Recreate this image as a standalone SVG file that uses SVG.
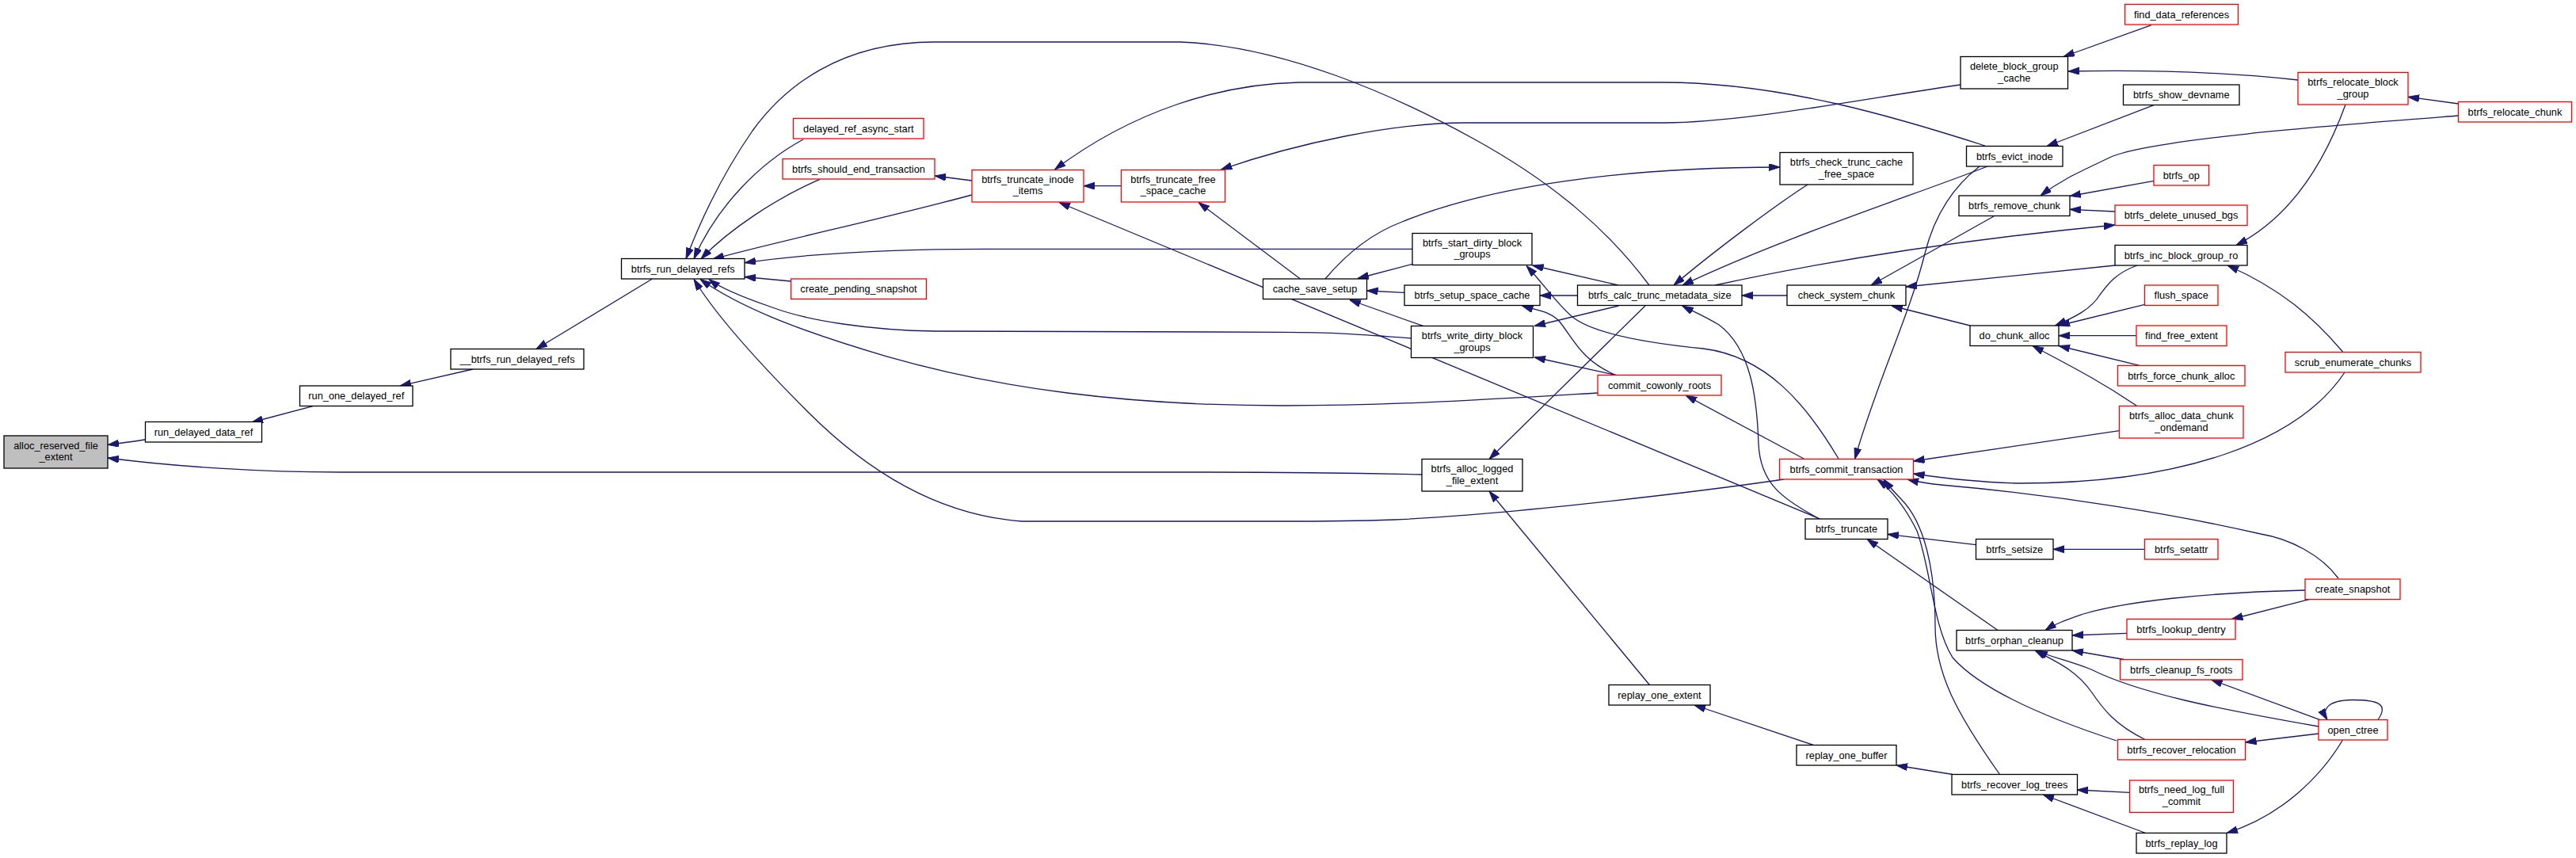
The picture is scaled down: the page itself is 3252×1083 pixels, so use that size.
<svg xmlns="http://www.w3.org/2000/svg" width="3252" height="1083" viewBox="0 0 3252 1083">
<style>
.n rect{fill:#ffffff;stroke:#000000;stroke-width:1.3}
.n.r rect{stroke:#ff0000}
.n.g rect{fill:#bfbfbf}
.n text{font-family:"Liberation Sans",Arial,Helvetica,sans-serif;font-size:12.8px;text-anchor:middle;fill:#000000}
#edges path{fill:none;stroke:#191970;stroke-width:1.3;marker-end:url(#a)}
</style>
<defs>
<marker id="a" markerUnits="userSpaceOnUse" markerWidth="14" markerHeight="10" refX="14" refY="4.5" orient="auto">
<path d="M0,0 L14,4.5 L0,9 z" fill="#191970" stroke="#191970" stroke-width="1"/>
</marker>
</defs>
<rect x="0" y="0" width="3252" height="1083" fill="#ffffff"/>
<g id="edges">
<path d="M183,555 C170,557 155,559 136,561.5"/>
<path d="M1795,599 C1700,597 1626,596 1500,596 L430,596 C330,596 220,589 136,578"/>
<path d="M395,512.7 L318,533"/>
<path d="M597,466 L505,487"/>
<path d="M823,352.3 L677,440.5"/>
<path d="M2082,360 C2030,290 1960,230 1860,175 C1760,120 1620,58 1490,53 L1180,53 C1060,53 990,110 950,165 C905,230 880,290 866,326.7"/>
<path d="M1014,176 C960,205 905,260 876,326.7"/>
<path d="M1035,226.3 C980,250 920,290 885,326.7"/>
<path d="M1227,246 C1120,275 980,305 900,327"/>
<path d="M1783,314.3 L1250,314.3 C1100,314 1000,323 940,331.7"/>
<path d="M998.6,355 L940,349.5"/>
<path d="M1782,427 C1720,422 1680,419.3 1620,419.3 L1180,418 C1100,417 1020,405 975,388 C940,376 910,364 895,352.5"/>
<path d="M2017,496 C1880,504 1760,512 1620,512 C1420,512 1260,490 1120,450 C1000,415 930,385 884,352.5"/>
<path d="M2252,605 C2150,620 1900,650 1760,656 C1700,658 1660,658 1620,658 L1290,658 C1180,650 1090,590 1020,520 C960,460 905,400 876,352.5"/>
<path d="M1415.5,234.7 L1368,234.7"/>
<path d="M1227,228 L1180,222"/>
<path d="M2506,184 C2400,150 2250,104 2100,104 L1640,104 C1540,106 1430,140 1331.5,214"/>
<path d="M2297.5,655 L1337,255.5"/>
<path d="M2475,107 C2350,125 2200,155 2100,155 L1850,155 C1760,155 1640,180 1541.5,214"/>
<path d="M1641.5,352 L1513,255.5"/>
<path d="M1673,352 C1700,320 1730,295 1770,280 C1880,235 2050,211 2247,211"/>
<path d="M1783,333.3 L1714,351.5"/>
<path d="M1773,369.3 L1725.5,367"/>
<path d="M1797,411.7 L1703.8,378.5"/>
<path d="M2043,360 L1934.6,335"/>
<path d="M2321,579 C2280,510 2230,450 2150,440 C2070,432 2010,420 1985,400 C1965,383 1950,360 1927,335.5"/>
<path d="M1991.5,373 L1944,373"/>
<path d="M2041,474 C1995,455 1985,425 1968,405 C1955,392 1940,392 1921.5,386"/>
<path d="M2043.4,386 L1937,411.5"/>
<path d="M2041,473.7 L1937,451"/>
<path d="M2256,373 L2199,373"/>
<path d="M2282,233 C2240,260 2160,320 2113,360"/>
<path d="M2509,210 C2420,245 2250,300 2124,360"/>
<path d="M2165,360 C2280,335 2450,305 2670,284"/>
<path d="M2517,273 L2362,360"/>
<path d="M2670,335 L2406,362"/>
<path d="M2487,411 L2388,386"/>
<path d="M2499,210 C2460,240 2440,280 2430,320 C2410,400 2370,480 2341.5,579.5"/>
<path d="M2716,31.7 L2605,71.5"/>
<path d="M2901,101 C2800,90 2700,88 2611,90"/>
<path d="M3103.7,131 L3040,122.3"/>
<path d="M2961,132 C2940,190 2900,270 2823,309.5"/>
<path d="M3104,146 C2950,158 2720,175 2665,198 C2630,215 2605,225 2576,247"/>
<path d="M2719,132.7 L2584,184.5"/>
<path d="M2719,228.3 L2613,247.5"/>
<path d="M2670,267 L2613,264.3"/>
<path d="M2698,335 C2670,345 2660,360 2651,372 C2640,390 2620,400 2594.5,411"/>
<path d="M2957.5,444 C2920,400 2880,365 2812,335"/>
<path d="M2707.6,384.3 L2599,411"/>
<path d="M2696.7,423.7 L2599,423.7"/>
<path d="M2701,461.3 L2599,436.5"/>
<path d="M2698,512.7 C2650,480 2610,460 2566,436.5"/>
<path d="M2675.5,543.7 L2415.5,582"/>
<path d="M2960,470 C2900,560 2750,610 2550,610 C2500,609 2450,603 2415.5,598"/>
<path d="M2952,730 C2930,700 2890,680 2854,674 C2750,650 2600,625 2450,612 C2430,610 2420,608 2408,605"/>
<path d="M2277.6,579.3 L2128,499"/>
<path d="M2077,386 L1880,579.5"/>
<path d="M2297,655 C2250,630 2222,610 2220,560 C2218,500 2210,440 2170,410 C2150,398 2135,392 2123.7,386"/>
<path d="M2082.4,864.5 L1880,620"/>
<path d="M2289.6,940.5 L2139,890"/>
<path d="M2465,977.5 L2394,966"/>
<path d="M2688.4,1000.3 L2622,997"/>
<path d="M2708.6,1051.5 L2579,1003"/>
<path d="M2957.5,934 C2930,980 2880,1030 2811,1051.5"/>
<path d="M2927,926 L2834.6,937"/>
<path d="M2929,908.7 L2791.6,858"/>
<path d="M2927,917 C2800,895 2700,875 2640,845 C2610,833 2590,830 2571,821"/>
<path d="M3002,908.5 C3015,890 3005,883 2968,883.5 C2940,884 2930,895 2938,908.5"/>
<path d="M2910,745 C2780,748 2680,760 2630,775 C2610,782 2595,787 2582,795.5"/>
<path d="M2916,756.3 L2817.5,781.5"/>
<path d="M2685,799.3 L2616,802"/>
<path d="M2681.6,832.5 L2616,821"/>
<path d="M2708,933.5 C2670,915 2655,895 2640,873 C2620,845 2595,835 2569,821"/>
<path d="M2522,795.5 L2357,680.5"/>
<path d="M2494.5,687.7 L2383,674.3"/>
<path d="M2707.6,693.3 L2592,693.3"/>
<path d="M2672,935 C2580,905 2500,870 2465,830 C2440,790 2438,720 2420,670 C2405,640 2390,620 2370,605"/>
<path d="M2524.5,977.5 C2470,900 2443,850 2443,790 C2443,720 2430,660 2400,630 C2392,622 2385,614 2378,605"/>
</g>
<g id="n_alloc_reserved_file_extent" class="n g"><rect x="5" y="550" width="131" height="41"/><text x="70.5" y="567">alloc_reserved_file</text><text x="70.5" y="581">_extent</text></g>
<g id="n_run_delayed_data_ref" class="n"><rect x="183.5" y="532.5" width="147" height="25.5"/><text x="257" y="549.5">run_delayed_data_ref</text></g>
<g id="n_run_one_delayed_ref" class="n"><rect x="378.5" y="487" width="142.5" height="25.5"/><text x="449.75" y="504">run_one_delayed_ref</text></g>
<g id="n___btrfs_run_delayed_refs" class="n"><rect x="569" y="440.5" width="168" height="25.5"/><text x="653" y="457.5">__btrfs_run_delayed_refs</text></g>
<g id="n_btrfs_run_delayed_refs" class="n"><rect x="784.5" y="326.5" width="155.5" height="25.5"/><text x="862.25" y="343.5">btrfs_run_delayed_refs</text></g>
<g id="n_delayed_ref_async_start" class="n r"><rect x="1001.5" y="149.5" width="164.5" height="25.5"/><text x="1083.75" y="166.5">delayed_ref_async_start</text></g>
<g id="n_btrfs_should_end_transaction" class="n r"><rect x="988" y="200.5" width="192" height="25.5"/><text x="1084" y="217.5">btrfs_should_end_transaction</text></g>
<g id="n_create_pending_snapshot" class="n r"><rect x="998.5" y="352" width="171" height="25.5"/><text x="1084" y="369">create_pending_snapshot</text></g>
<g id="n_btrfs_truncate_inode_items" class="n r"><rect x="1227" y="214.5" width="141" height="40.5"/><text x="1297.5" y="231.2">btrfs_truncate_inode</text><text x="1297.5" y="245.2">_items</text></g>
<g id="n_btrfs_truncate_free_space_cache" class="n r"><rect x="1415.5" y="214.5" width="131" height="40.5"/><text x="1481" y="231.2">btrfs_truncate_free</text><text x="1481" y="245.2">_space_cache</text></g>
<g id="n_cache_save_setup" class="n"><rect x="1594.5" y="352" width="131" height="25.5"/><text x="1660" y="369">cache_save_setup</text></g>
<g id="n_btrfs_start_dirty_block_groups" class="n"><rect x="1783" y="294.5" width="151" height="40"/><text x="1858.5" y="311">btrfs_start_dirty_block</text><text x="1858.5" y="325">_groups</text></g>
<g id="n_btrfs_setup_space_cache" class="n"><rect x="1773" y="360" width="171" height="25.5"/><text x="1858.5" y="377">btrfs_setup_space_cache</text></g>
<g id="n_btrfs_write_dirty_block_groups" class="n"><rect x="1781.5" y="411.5" width="154" height="40"/><text x="1858.5" y="428.2">btrfs_write_dirty_block</text><text x="1858.5" y="442.5">_groups</text></g>
<g id="n_btrfs_alloc_logged_file_extent" class="n"><rect x="1795" y="579.5" width="127" height="40.5"/><text x="1858.5" y="596.2">btrfs_alloc_logged</text><text x="1858.5" y="610.5">_file_extent</text></g>
<g id="n_btrfs_calc_trunc_metadata_size" class="n"><rect x="1991.5" y="360" width="207.5" height="25.5"/><text x="2095.25" y="377">btrfs_calc_trunc_metadata_size</text></g>
<g id="n_commit_cowonly_roots" class="n r"><rect x="2017" y="473.5" width="156" height="25.5"/><text x="2095" y="490.5">commit_cowonly_roots</text></g>
<g id="n_replay_one_extent" class="n"><rect x="2031" y="864.5" width="128" height="25.5"/><text x="2095" y="881.5">replay_one_extent</text></g>
<g id="n_btrfs_check_trunc_cache_free_space" class="n"><rect x="2247" y="192.5" width="168" height="40.5"/><text x="2331" y="209">btrfs_check_trunc_cache</text><text x="2331" y="223.8">_free_space</text></g>
<g id="n_check_system_chunk" class="n"><rect x="2256" y="360" width="150" height="25.5"/><text x="2331" y="377">check_system_chunk</text></g>
<g id="n_btrfs_commit_transaction" class="n r"><rect x="2246.5" y="579.5" width="169" height="25.5"/><text x="2331" y="596.5">btrfs_commit_transaction</text></g>
<g id="n_btrfs_truncate" class="n"><rect x="2279" y="655" width="104" height="25.5"/><text x="2331" y="672">btrfs_truncate</text></g>
<g id="n_replay_one_buffer" class="n"><rect x="2268" y="940.5" width="126" height="25.5"/><text x="2331" y="957.5">replay_one_buffer</text></g>
<g id="n_delete_block_group_cache" class="n"><rect x="2475" y="71.5" width="135.5" height="40.5"/><text x="2542.75" y="88">delete_block_group</text><text x="2542.75" y="103">_cache</text></g>
<g id="n_btrfs_evict_inode" class="n"><rect x="2482.5" y="184.5" width="121.5" height="25.5"/><text x="2543.25" y="201.5">btrfs_evict_inode</text></g>
<g id="n_btrfs_remove_chunk" class="n"><rect x="2473" y="247" width="140" height="25.5"/><text x="2543" y="264">btrfs_remove_chunk</text></g>
<g id="n_do_chunk_alloc" class="n"><rect x="2487" y="411" width="112" height="25.5"/><text x="2543" y="428">do_chunk_alloc</text></g>
<g id="n_btrfs_setsize" class="n"><rect x="2494.5" y="680.5" width="97.5" height="25.5"/><text x="2543.25" y="697.5">btrfs_setsize</text></g>
<g id="n_btrfs_orphan_cleanup" class="n"><rect x="2470" y="795.5" width="146" height="25.5"/><text x="2543" y="812.5">btrfs_orphan_cleanup</text></g>
<g id="n_btrfs_recover_log_trees" class="n"><rect x="2464" y="977.5" width="158.5" height="25.5"/><text x="2543.25" y="994.5">btrfs_recover_log_trees</text></g>
<g id="n_find_data_references" class="n r"><rect x="2682.5" y="5.5" width="143" height="25.5"/><text x="2754" y="22.5">find_data_references</text></g>
<g id="n_btrfs_show_devname" class="n"><rect x="2680.5" y="107" width="146.5" height="25.5"/><text x="2753.75" y="124">btrfs_show_devname</text></g>
<g id="n_btrfs_op" class="n r"><rect x="2719" y="208.5" width="69.5" height="25.5"/><text x="2753.75" y="225.5">btrfs_op</text></g>
<g id="n_btrfs_delete_unused_bgs" class="n r"><rect x="2670" y="259" width="167" height="25.5"/><text x="2753.5" y="276">btrfs_delete_unused_bgs</text></g>
<g id="n_btrfs_inc_block_group_ro" class="n"><rect x="2670" y="309.5" width="167" height="25.5"/><text x="2753.5" y="326.5">btrfs_inc_block_group_ro</text></g>
<g id="n_flush_space" class="n r"><rect x="2707.5" y="360" width="92.5" height="25.5"/><text x="2753.75" y="377">flush_space</text></g>
<g id="n_find_free_extent" class="n r"><rect x="2697" y="411" width="114" height="25.5"/><text x="2754" y="428">find_free_extent</text></g>
<g id="n_btrfs_force_chunk_alloc" class="n r"><rect x="2673.5" y="461.5" width="160.5" height="25.5"/><text x="2753.75" y="478.5">btrfs_force_chunk_alloc</text></g>
<g id="n_btrfs_alloc_data_chunk_ondemand" class="n r"><rect x="2675.5" y="512.5" width="156.5" height="40.5"/><text x="2753.75" y="529">btrfs_alloc_data_chunk</text><text x="2753.75" y="544">_ondemand</text></g>
<g id="n_btrfs_setattr" class="n r"><rect x="2707.5" y="680.5" width="92.5" height="25.5"/><text x="2753.75" y="697.5">btrfs_setattr</text></g>
<g id="n_btrfs_lookup_dentry" class="n r"><rect x="2685" y="781.5" width="137" height="25.5"/><text x="2753.5" y="798.5">btrfs_lookup_dentry</text></g>
<g id="n_btrfs_cleanup_fs_roots" class="n r"><rect x="2676.5" y="832.5" width="154.5" height="25.5"/><text x="2753.75" y="849.5">btrfs_cleanup_fs_roots</text></g>
<g id="n_btrfs_recover_relocation" class="n r"><rect x="2673.5" y="933.5" width="161" height="25.5"/><text x="2754" y="950.5">btrfs_recover_relocation</text></g>
<g id="n_btrfs_need_log_full_commit" class="n r"><rect x="2688.5" y="985" width="131" height="40.5"/><text x="2754" y="1001">btrfs_need_log_full</text><text x="2754" y="1016">_commit</text></g>
<g id="n_btrfs_replay_log" class="n"><rect x="2697" y="1051.5" width="114" height="25.5"/><text x="2754" y="1068.5">btrfs_replay_log</text></g>
<g id="n_btrfs_relocate_block_group" class="n r"><rect x="2901" y="91.5" width="139" height="40.5"/><text x="2970.5" y="108">btrfs_relocate_block</text><text x="2970.5" y="123">_group</text></g>
<g id="n_scrub_enumerate_chunks" class="n r"><rect x="2885" y="444.5" width="171" height="25.5"/><text x="2970.5" y="461.5">scrub_enumerate_chunks</text></g>
<g id="n_create_snapshot" class="n r"><rect x="2910" y="731" width="120" height="25.5"/><text x="2970" y="748">create_snapshot</text></g>
<g id="n_open_ctree" class="n r"><rect x="2927" y="908.5" width="87" height="25.5"/><text x="2970.5" y="925.5">open_ctree</text></g>
<g id="n_btrfs_relocate_chunk" class="n r"><rect x="3103.5" y="128.5" width="143" height="25.5"/><text x="3175" y="145.5">btrfs_relocate_chunk</text></g>
</svg>
